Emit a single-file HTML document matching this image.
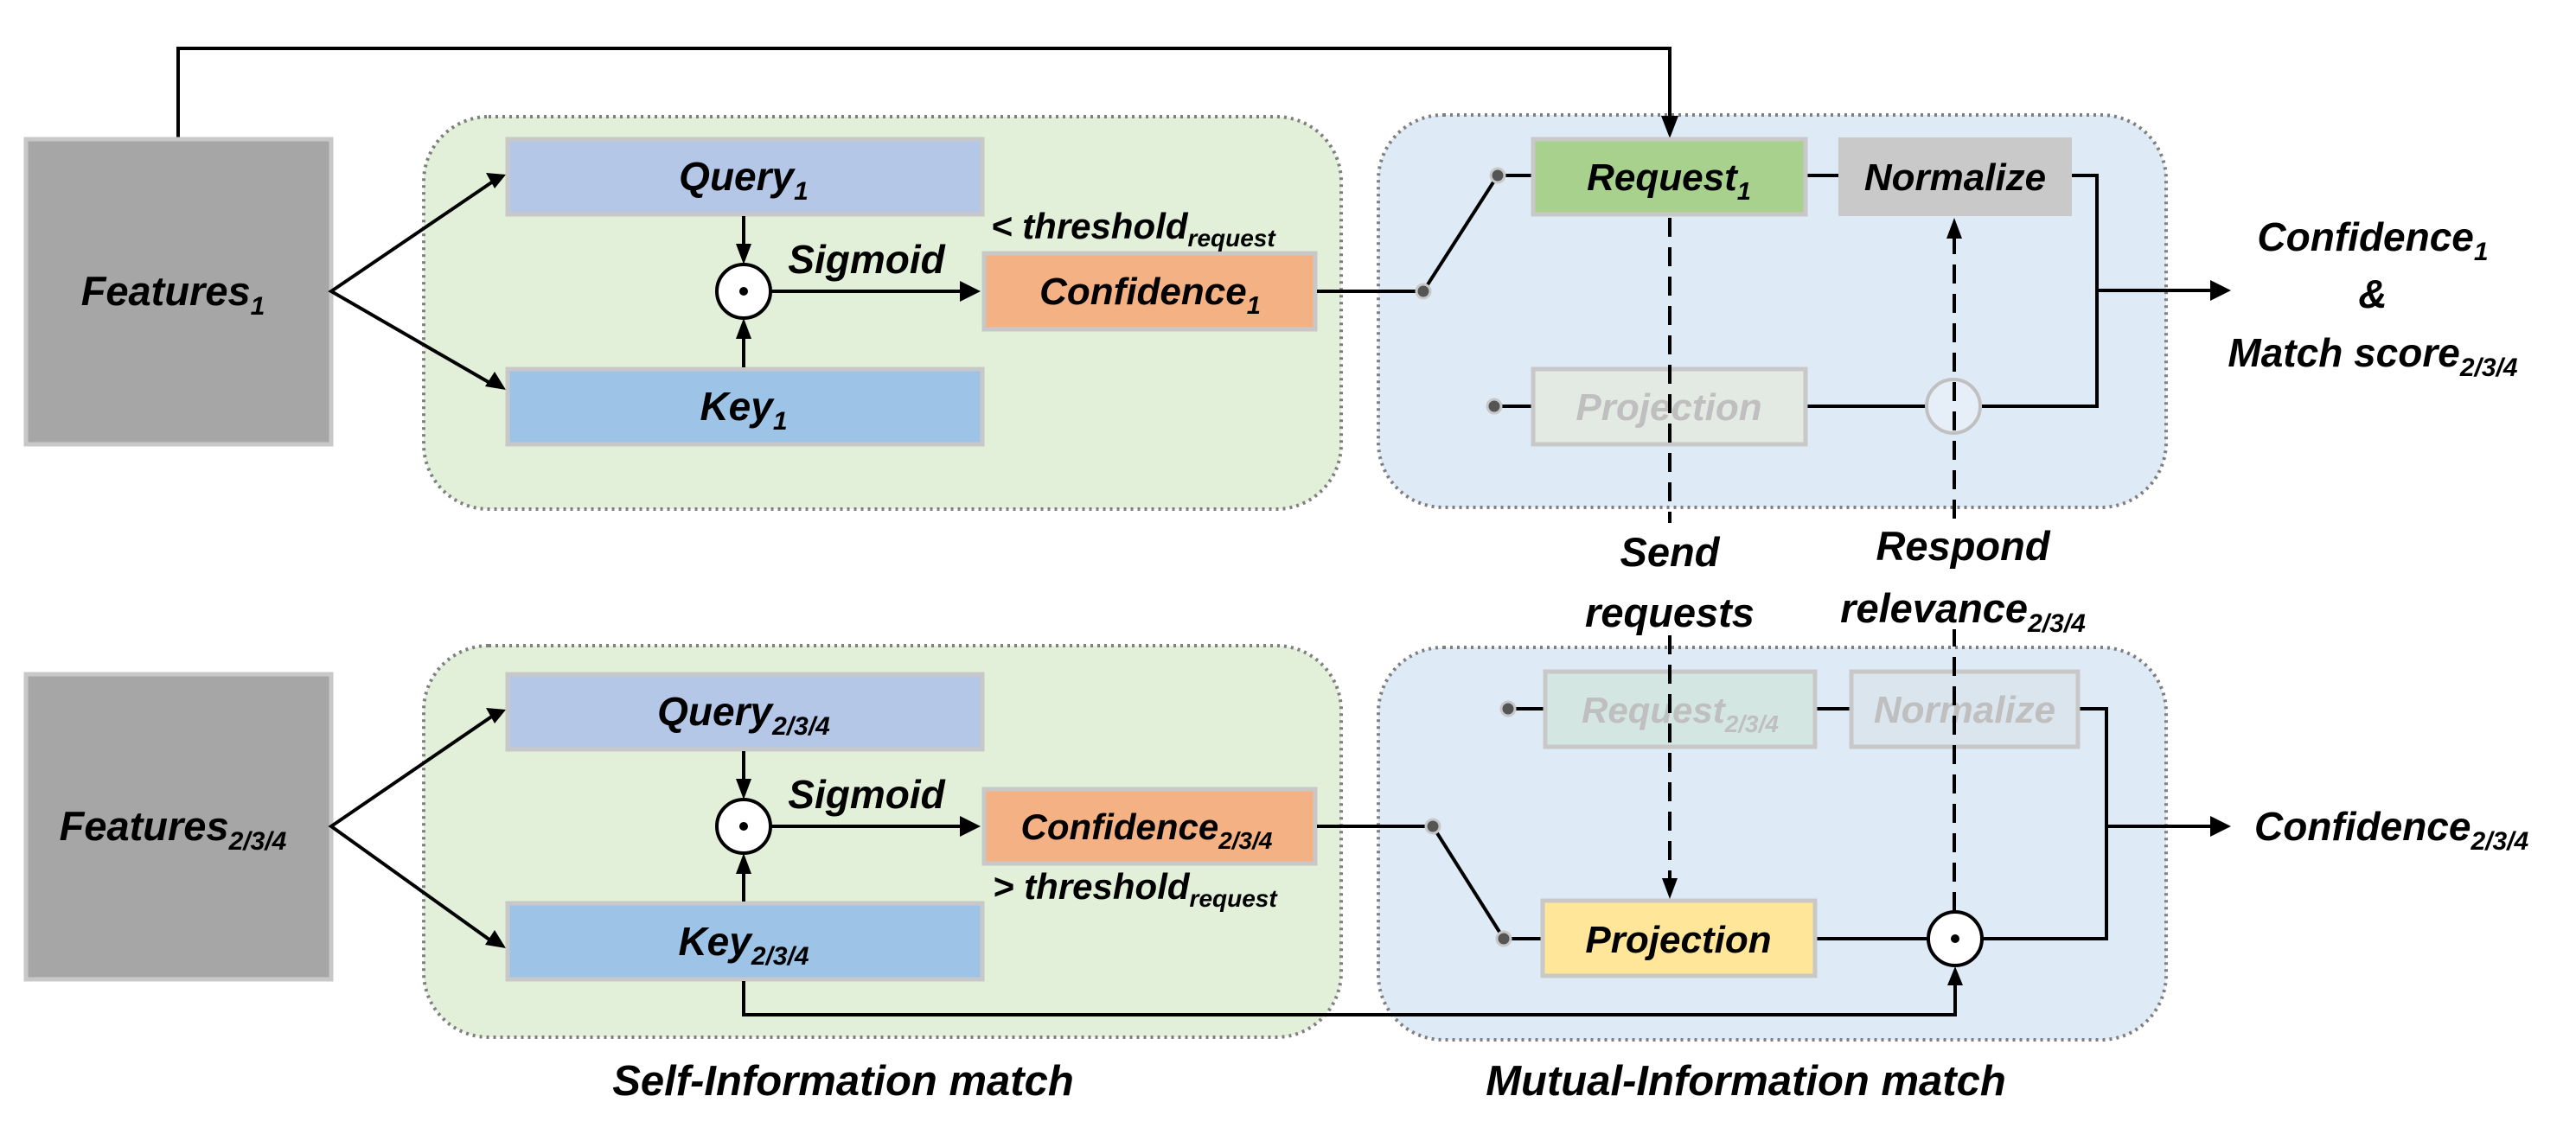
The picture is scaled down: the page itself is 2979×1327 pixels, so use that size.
<!DOCTYPE html>
<html><head><meta charset="utf-8"><style>
html,body{margin:0;padding:0;background:#fff;}
svg{display:block;}
text{font-family:"Liberation Sans",sans-serif;font-weight:bold;font-style:italic;fill:#000;}
</style></head><body>
<svg width="2979" height="1327" viewBox="0 0 2979 1327" xmlns="http://www.w3.org/2000/svg">
<!-- panels -->
<rect x="490" y="135" width="1061" height="454" rx="75" fill="#e2efd9" stroke="#7f7f7f" stroke-width="4" stroke-dasharray="3 5"/>
<rect x="1594" y="133" width="911" height="454" rx="75" fill="#deebf7" stroke="#7f7f7f" stroke-width="4" stroke-dasharray="3 5"/>
<rect x="490" y="747" width="1061" height="453" rx="75" fill="#e2efd9" stroke="#7f7f7f" stroke-width="4" stroke-dasharray="3 5"/>
<rect x="1594" y="749" width="911" height="454" rx="75" fill="#deebf7" stroke="#7f7f7f" stroke-width="4" stroke-dasharray="3 5"/>

<!-- top feedback line -->
<polyline points="206,159 206,56 1931,56 1931,140" fill="none" stroke="#000" stroke-width="4"/>
<polygon points="1921,134 1941,134 1931,160" fill="#000"/>

<!-- Features boxes -->
<rect x="30" y="161" width="353" height="353" fill="#a6a6a6" stroke="#c8c8c8" stroke-width="5"/>
<rect x="30" y="780" width="353" height="353" fill="#a6a6a6" stroke="#c8c8c8" stroke-width="5"/>
<text x="200" y="353" font-size="47" text-anchor="middle">Features<tspan font-size="30" dy="11">1</tspan></text>
<text x="200" y="972" font-size="47" text-anchor="middle">Features<tspan font-size="30" dy="11">2/3/4</tspan></text>

<!-- fork arrows -->
<g stroke="#000" stroke-width="4" fill="none">
<polyline points="570,210 383,337 570,445"/>
<polyline points="570,828 383,956 570,1090"/>
</g>
<polygon points="585,202 562,200 572,218" fill="#000"/>
<polygon points="585,451 572,430 561,447" fill="#000"/>
<polygon points="585,821 562,819 572,837" fill="#000"/>
<polygon points="585,1097 572,1076 561,1093" fill="#000"/>

<!-- Query/Key top -->
<rect x="587" y="161" width="549" height="87" fill="#b4c7e7" stroke="#c8c8c8" stroke-width="5"/>
<rect x="587" y="427" width="549" height="87" fill="#9dc3e6" stroke="#c8c8c8" stroke-width="5"/>
<text x="860" y="220" font-size="46" text-anchor="middle">Query<tspan font-size="30" dy="11">1</tspan></text>
<text x="860" y="486" font-size="46" text-anchor="middle">Key<tspan font-size="30" dy="11">1</tspan></text>
<!-- Query/Key bottom -->
<rect x="587" y="780" width="549" height="87" fill="#b4c7e7" stroke="#c8c8c8" stroke-width="5"/>
<rect x="587" y="1045" width="549" height="88" fill="#9dc3e6" stroke="#c8c8c8" stroke-width="5"/>
<text x="860" y="839" font-size="46" text-anchor="middle">Query<tspan font-size="30" dy="11">2/3/4</tspan></text>
<text x="860" y="1105" font-size="46" text-anchor="middle">Key<tspan font-size="30" dy="11">2/3/4</tspan></text>

<!-- odots -->
<g stroke="#000" stroke-width="4" fill="none">
<line x1="860" y1="250" x2="860" y2="290"/>
<line x1="860" y1="425" x2="860" y2="385"/>
<circle cx="860" cy="337" r="31" fill="#fff"/>
<line x1="891" y1="337" x2="1115" y2="337"/>
<line x1="860" y1="869" x2="860" y2="910"/>
<line x1="860" y1="1043" x2="860" y2="1003"/>
<circle cx="860" cy="956" r="31" fill="#fff"/>
<line x1="891" y1="956" x2="1115" y2="956"/>
</g>
<circle cx="860" cy="337" r="5" fill="#000"/>
<circle cx="860" cy="956" r="5" fill="#000"/>
<polygon points="851,282 869,282 860,306" fill="#000"/>
<polygon points="851,392 869,392 860,368" fill="#000"/>
<polygon points="851,901 869,901 860,925" fill="#000"/>
<polygon points="851,1011 869,1011 860,987" fill="#000"/>
<polygon points="1110,325 1110,349 1134,337" fill="#000"/>
<polygon points="1110,944 1110,968 1134,956" fill="#000"/>
<text x="1002" y="316" font-size="46" text-anchor="middle">Sigmoid</text>
<text x="1002" y="935" font-size="46" text-anchor="middle">Sigmoid</text>

<!-- Confidence boxes -->
<rect x="1138" y="293" width="383" height="88" fill="#f4b183" stroke="#c8c8c8" stroke-width="5"/>
<rect x="1138" y="913" width="383" height="86" fill="#f4b183" stroke="#c8c8c8" stroke-width="5"/>
<text x="1330" y="352" font-size="44" text-anchor="middle">Confidence<tspan font-size="29" dy="11">1</tspan></text>
<text x="1326" y="971" font-size="42" text-anchor="middle">Confidence<tspan font-size="28" dy="11">2/3/4</tspan></text>
<text x="1146" y="276" font-size="42">&lt; threshold<tspan font-size="28" dy="9">request</tspan></text>
<text x="1148" y="1040" font-size="42">&gt; threshold<tspan font-size="28" dy="9">request</tspan></text>

<!-- connections -->
<g stroke="#000" stroke-width="4" fill="none">
<line x1="1523" y1="337" x2="1646" y2="337"/>
<line x1="1646" y1="337" x2="1732" y2="203"/>
<line x1="1732" y1="203" x2="1771" y2="203"/>
<line x1="1728" y1="470" x2="1771" y2="470"/>
<line x1="2090" y1="203" x2="2126" y2="203"/>
<polyline points="2396,203 2425,203 2425,470 2292,470"/>
<line x1="2090" y1="470" x2="2227" y2="470"/>
<line x1="2425" y1="336" x2="2560" y2="336"/>

<line x1="1523" y1="956" x2="1657" y2="956"/>
<line x1="1657" y1="956" x2="1739" y2="1086"/>
<line x1="1739" y1="1086" x2="1782" y2="1086"/>
<line x1="1744" y1="820" x2="1785" y2="820"/>
<line x1="2101" y1="820" x2="2139" y2="820"/>
<polyline points="2405,820 2436,820 2436,1086 2293,1086"/>
<line x1="2101" y1="1086" x2="2229" y2="1086"/>
<line x1="2436" y1="956" x2="2560" y2="956"/>
<polyline points="860,1135 860,1174 2261,1174 2261,1135"/>
</g>
<polygon points="2556,324 2556,348 2580,336" fill="#000"/>
<polygon points="2556,944 2556,968 2580,956" fill="#000"/>
<polygon points="2252,1140 2270,1140 2261,1118" fill="#000"/>

<!-- switch dots -->
<g fill="#555" stroke="#c8c8c8" stroke-width="3">
<circle cx="1646" cy="337" r="8"/>
<circle cx="1732" cy="203" r="8"/>
<circle cx="1728" cy="470" r="8"/>
<circle cx="1657" cy="956" r="8"/>
<circle cx="1739" cy="1086" r="8"/>
<circle cx="1744" cy="820" r="8"/>
</g>

<!-- Mutual top boxes -->
<rect x="1773" y="161" width="315" height="87" fill="#a9d18e" stroke="#c8c8c8" stroke-width="5"/>
<text x="1930" y="220" font-size="44" text-anchor="middle">Request<tspan font-size="29" dy="11">1</tspan></text>
<rect x="2126" y="159" width="270" height="91" fill="#c9c9c9"/>
<text x="2261" y="220" font-size="44" text-anchor="middle">Normalize</text>
<rect x="1773" y="427" width="315" height="87" fill="#e3e9e3" stroke="#c8c8c8" stroke-width="5"/>
<text x="1930" y="486" font-size="44" text-anchor="middle" style="fill:#bfbfbf">Projection</text>
<circle cx="2259" cy="470" r="31" fill="#e6eef7" stroke="#c0c0c0" stroke-width="4"/>

<!-- Mutual bottom boxes -->
<rect x="1787" y="777" width="312" height="87" fill="#d4e6e1" stroke="#c8c8c8" stroke-width="5"/>
<text x="1943" y="836" font-size="42" text-anchor="middle" style="fill:#bfbfbf">Request<tspan font-size="28" dy="11">2/3/4</tspan></text>
<rect x="2141" y="777" width="262" height="87" fill="#dbe5ee" stroke="#c8c8c8" stroke-width="5"/>
<text x="2272" y="836" font-size="44" text-anchor="middle" style="fill:#bfbfbf">Normalize</text>
<rect x="1784" y="1042" width="315" height="87" fill="#ffe699" stroke="#c8c8c8" stroke-width="5"/>
<text x="1941" y="1102" font-size="44" text-anchor="middle">Projection</text>
<circle cx="2261" cy="1086" r="31" fill="#fff" stroke="#000" stroke-width="4"/>
<circle cx="2261" cy="1086" r="5" fill="#000"/>

<!-- dashed lines -->
<g stroke="#000" stroke-width="4" stroke-dasharray="22 12" fill="none">
<line x1="1931" y1="252" x2="1931" y2="605"/>
<line x1="1931" y1="735" x2="1931" y2="1020"/>
<line x1="2260" y1="1054" x2="2260" y2="728"/>
<line x1="2260" y1="600" x2="2260" y2="270"/>
</g>
<polygon points="1922,1016 1940,1016 1931,1040" fill="#000"/>
<polygon points="2251,276 2269,276 2260,252" fill="#000"/>

<!-- labels -->
<text x="1931" y="655" font-size="47" text-anchor="middle">Send</text>
<text x="1931" y="725" font-size="47" text-anchor="middle">requests</text>
<text x="2270" y="648" font-size="47" text-anchor="middle">Respond</text>
<text x="2270" y="720" font-size="47" text-anchor="middle">relevance<tspan font-size="30" dy="11">2/3/4</tspan></text>

<text x="2744" y="290" font-size="46" text-anchor="middle">Confidence<tspan font-size="30" dy="11">1</tspan></text>
<text x="2744" y="356" font-size="46" text-anchor="middle">&amp;</text>
<text x="2744" y="424" font-size="46" text-anchor="middle">Match score<tspan font-size="30" dy="11">2/3/4</tspan></text>
<text x="2607" y="972" font-size="46">Confidence<tspan font-size="30" dy="11">2/3/4</tspan></text>

<text x="975" y="1267" font-size="49" text-anchor="middle">Self-Information match</text>
<text x="2019" y="1267" font-size="49" text-anchor="middle">Mutual-Information match</text>
</svg>
</body></html>
